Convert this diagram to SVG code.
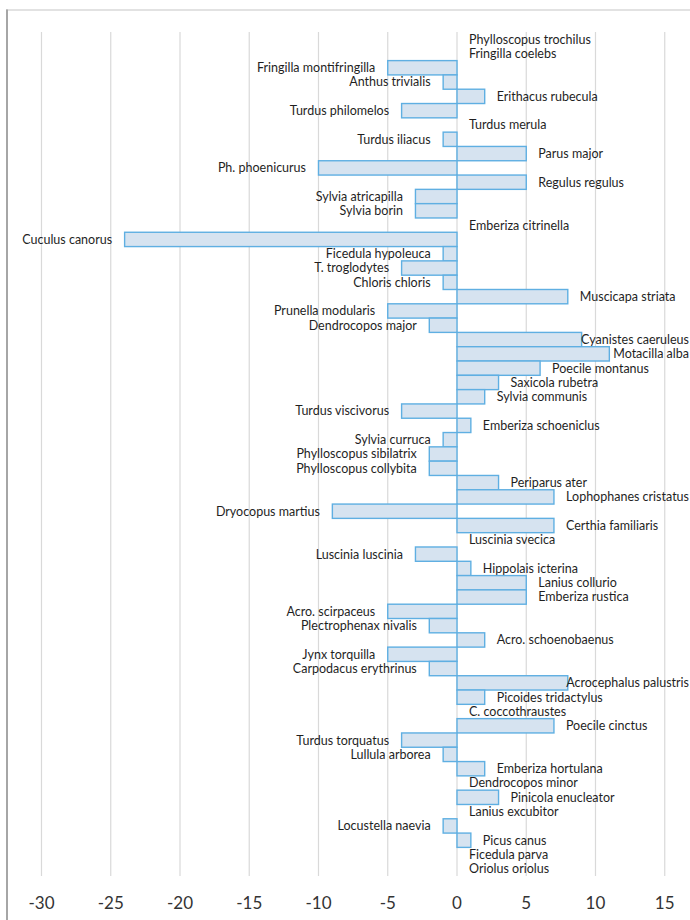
<svg xmlns="http://www.w3.org/2000/svg" width="690" height="920" viewBox="0 0 690 920">
<style>
.grid{stroke:#d9d9d9;stroke-width:1.2}
.bar{fill:#d6e3f0;stroke:#5fafe2;stroke-width:1.4}
.l{font-family:Lato,"Open Sans",sans-serif;font-size:12.5px;fill:#1f1f1f}
.n{text-anchor:end}
.t{font-family:Lato,"Open Sans",sans-serif;font-size:17px;fill:#333333;text-anchor:middle}
</style>
<rect x="0" y="0" width="690" height="920" fill="#ffffff"/>
<line x1="6" y1="10" x2="690" y2="10" stroke="#d9d9d9" stroke-width="1.5"/>
<line x1="7" y1="9.5" x2="7" y2="920" stroke="#a6a6a6" stroke-width="2"/>
<g id="gridlines">
<line class="grid" x1="41.5" y1="32" x2="41.5" y2="876"/>
<line class="grid" x1="110.75" y1="32" x2="110.75" y2="876"/>
<line class="grid" x1="180" y1="32" x2="180" y2="876"/>
<line class="grid" x1="249.24" y1="32" x2="249.24" y2="876"/>
<line class="grid" x1="318.49" y1="32" x2="318.49" y2="876"/>
<line class="grid" x1="387.74" y1="32" x2="387.74" y2="876"/>
<line class="grid" x1="457" y1="32" x2="457" y2="876"/>
<line class="grid" x1="526.25" y1="32" x2="526.25" y2="876"/>
<line class="grid" x1="595.49" y1="32" x2="595.49" y2="876"/>
<line class="grid" x1="664.74" y1="32" x2="664.74" y2="876"/>
</g>
<g id="axis-labels">
<text class="t" x="41.5" y="909">-30</text>
<text class="t" x="110.75" y="909">-25</text>
<text class="t" x="180" y="909">-20</text>
<text class="t" x="249.24" y="909">-15</text>
<text class="t" x="318.49" y="909">-10</text>
<text class="t" x="387.74" y="909">-5</text>
<text class="t" x="457" y="909">0</text>
<text class="t" x="526.25" y="909">5</text>
<text class="t" x="595.49" y="909">10</text>
<text class="t" x="664.74" y="909">15</text>
</g>
<g id="bars">
<g id="r0"><text class="l" x="469" y="43.55">Phylloscopus trochilus</text></g>
<g id="r1"><text class="l" x="469" y="57.86">Fringilla coelebs</text></g>
<g id="r2"><rect class="bar" x="387.75" y="60.61" width="69.25" height="14.305"/><text class="l n" x="375.25" y="72.16">Fringilla montifringilla</text></g>
<g id="r3"><rect class="bar" x="443.15" y="74.92" width="13.85" height="14.305"/><text class="l n" x="430.65" y="86.47">Anthus trivialis</text></g>
<g id="r4"><rect class="bar" x="457" y="89.22" width="27.7" height="14.305"/><text class="l" x="496.7" y="100.77">Erithacus rubecula</text></g>
<g id="r5"><rect class="bar" x="401.6" y="103.53" width="55.4" height="14.305"/><text class="l n" x="389.1" y="115.08">Turdus philomelos</text></g>
<g id="r6"><text class="l" x="469" y="129.38">Turdus merula</text></g>
<g id="r7"><rect class="bar" x="443.15" y="132.14" width="13.85" height="14.305"/><text class="l n" x="430.65" y="143.69">Turdus iliacus</text></g>
<g id="r8"><rect class="bar" x="457" y="146.44" width="69.25" height="14.305"/><text class="l" x="538.25" y="157.99">Parus major</text></g>
<g id="r9"><rect class="bar" x="318.51" y="160.75" width="138.49" height="14.305"/><text class="l n" x="306.01" y="172.3">Ph. phoenicurus</text></g>
<g id="r10"><rect class="bar" x="457" y="175.05" width="69.25" height="14.305"/><text class="l" x="538.25" y="186.6">Regulus regulus</text></g>
<g id="r11"><rect class="bar" x="415.45" y="189.36" width="41.55" height="14.305"/><text class="l n" x="402.95" y="200.91">Sylvia atricapilla</text></g>
<g id="r12"><rect class="bar" x="415.45" y="203.66" width="41.55" height="14.305"/><text class="l n" x="402.95" y="215.21">Sylvia borin</text></g>
<g id="r13"><text class="l" x="469" y="229.52">Emberiza citrinella</text></g>
<g id="r14"><rect class="bar" x="124.62" y="232.27" width="332.38" height="14.305"/><text class="l n" x="112.12" y="243.82">Cuculus canorus</text></g>
<g id="r15"><rect class="bar" x="443.15" y="246.58" width="13.85" height="14.305"/><text class="l n" x="430.65" y="258.13">Ficedula hypoleuca</text></g>
<g id="r16"><rect class="bar" x="401.6" y="260.88" width="55.4" height="14.305"/><text class="l n" x="389.1" y="272.43">T. troglodytes</text></g>
<g id="r17"><rect class="bar" x="443.15" y="275.19" width="13.85" height="14.305"/><text class="l n" x="430.65" y="286.74">Chloris chloris</text></g>
<g id="r18"><rect class="bar" x="457" y="289.49" width="110.79" height="14.305"/><text class="l" x="579.79" y="301.04">Muscicapa striata</text></g>
<g id="r19"><rect class="bar" x="387.75" y="303.8" width="69.25" height="14.305"/><text class="l n" x="375.25" y="315.35">Prunella modularis</text></g>
<g id="r20"><rect class="bar" x="429.3" y="318.1" width="27.7" height="14.305"/><text class="l n" x="416.8" y="329.65">Dendrocopos major</text></g>
<g id="r21"><rect class="bar" x="457" y="332.41" width="124.64" height="14.305"/><text class="l n" x="689" y="343.96">Cyanistes caeruleus</text></g>
<g id="r22"><rect class="bar" x="457" y="346.71" width="152.34" height="14.305"/><text class="l n" x="689" y="358.26">Motacilla alba</text></g>
<g id="r23"><rect class="bar" x="457" y="361.02" width="83.09" height="14.305"/><text class="l" x="552.09" y="372.57">Poecile montanus</text></g>
<g id="r24"><rect class="bar" x="457" y="375.32" width="41.55" height="14.305"/><text class="l" x="510.55" y="386.87">Saxicola rubetra</text></g>
<g id="r25"><rect class="bar" x="457" y="389.63" width="27.7" height="14.305"/><text class="l" x="496.7" y="401.18">Sylvia communis</text></g>
<g id="r26"><rect class="bar" x="401.6" y="403.93" width="55.4" height="14.305"/><text class="l n" x="389.1" y="415.48">Turdus viscivorus</text></g>
<g id="r27"><rect class="bar" x="457" y="418.24" width="13.85" height="14.305"/><text class="l" x="482.85" y="429.79">Emberiza schoeniclus</text></g>
<g id="r28"><rect class="bar" x="443.15" y="432.54" width="13.85" height="14.305"/><text class="l n" x="430.65" y="444.09">Sylvia curruca</text></g>
<g id="r29"><rect class="bar" x="429.3" y="446.85" width="27.7" height="14.305"/><text class="l n" x="416.8" y="458.4">Phylloscopus sibilatrix</text></g>
<g id="r30"><rect class="bar" x="429.3" y="461.15" width="27.7" height="14.305"/><text class="l n" x="416.8" y="472.7">Phylloscopus collybita</text></g>
<g id="r31"><rect class="bar" x="457" y="475.46" width="41.55" height="14.305"/><text class="l" x="510.55" y="487.01">Periparus ater</text></g>
<g id="r32"><rect class="bar" x="457" y="489.76" width="96.94" height="14.305"/><text class="l n" x="689" y="501.31">Lophophanes cristatus</text></g>
<g id="r33"><rect class="bar" x="332.36" y="504.07" width="124.64" height="14.305"/><text class="l n" x="319.86" y="515.62">Dryocopus martius</text></g>
<g id="r34"><rect class="bar" x="457" y="518.37" width="96.94" height="14.305"/><text class="l" x="565.94" y="529.92">Certhia familiaris</text></g>
<g id="r35"><text class="l" x="469" y="544.23">Luscinia svecica</text></g>
<g id="r36"><rect class="bar" x="415.45" y="546.98" width="41.55" height="14.305"/><text class="l n" x="402.95" y="558.53">Luscinia luscinia</text></g>
<g id="r37"><rect class="bar" x="457" y="561.29" width="13.85" height="14.305"/><text class="l" x="482.85" y="572.84">Hippolais icterina</text></g>
<g id="r38"><rect class="bar" x="457" y="575.59" width="69.25" height="14.305"/><text class="l" x="538.25" y="587.14">Lanius collurio</text></g>
<g id="r39"><rect class="bar" x="457" y="589.9" width="69.25" height="14.305"/><text class="l" x="538.25" y="601.45">Emberiza rustica</text></g>
<g id="r40"><rect class="bar" x="387.75" y="604.2" width="69.25" height="14.305"/><text class="l n" x="375.25" y="615.75">Acro. scirpaceus</text></g>
<g id="r41"><rect class="bar" x="429.3" y="618.51" width="27.7" height="14.305"/><text class="l n" x="416.8" y="630.06">Plectrophenax nivalis</text></g>
<g id="r42"><rect class="bar" x="457" y="632.81" width="27.7" height="14.305"/><text class="l" x="496.7" y="644.36">Acro. schoenobaenus</text></g>
<g id="r43"><rect class="bar" x="387.75" y="647.12" width="69.25" height="14.305"/><text class="l n" x="375.25" y="658.67">Jynx torquilla</text></g>
<g id="r44"><rect class="bar" x="429.3" y="661.42" width="27.7" height="14.305"/><text class="l n" x="416.8" y="672.97">Carpodacus erythrinus</text></g>
<g id="r45"><rect class="bar" x="457" y="675.73" width="110.79" height="14.305"/><text class="l n" x="689" y="687.28">Acrocephalus palustris</text></g>
<g id="r46"><rect class="bar" x="457" y="690.03" width="27.7" height="14.305"/><text class="l" x="496.7" y="701.58">Picoides tridactylus</text></g>
<g id="r47"><text class="l" x="469" y="715.89">C. coccothraustes</text></g>
<g id="r48"><rect class="bar" x="457" y="718.64" width="96.94" height="14.305"/><text class="l" x="565.94" y="730.19">Poecile cinctus</text></g>
<g id="r49"><rect class="bar" x="401.6" y="732.95" width="55.4" height="14.305"/><text class="l n" x="389.1" y="744.5">Turdus torquatus</text></g>
<g id="r50"><rect class="bar" x="443.15" y="747.25" width="13.85" height="14.305"/><text class="l n" x="430.65" y="758.8">Lullula arborea</text></g>
<g id="r51"><rect class="bar" x="457" y="761.56" width="27.7" height="14.305"/><text class="l" x="496.7" y="773.11">Emberiza hortulana</text></g>
<g id="r52"><text class="l" x="469" y="787.41">Dendrocopos minor</text></g>
<g id="r53"><rect class="bar" x="457" y="790.17" width="41.55" height="14.305"/><text class="l" x="510.55" y="801.72">Pinicola enucleator</text></g>
<g id="r54"><text class="l" x="469" y="816.02">Lanius excubitor</text></g>
<g id="r55"><rect class="bar" x="443.15" y="818.78" width="13.85" height="14.305"/><text class="l n" x="430.65" y="830.33">Locustella naevia</text></g>
<g id="r56"><rect class="bar" x="457" y="833.08" width="13.85" height="14.305"/><text class="l" x="482.85" y="844.63">Picus canus</text></g>
<g id="r57"><text class="l" x="469" y="858.94">Ficedula parva</text></g>
<g id="r58"><text class="l" x="469" y="873.24">Oriolus oriolus</text></g>
</g>
</svg>
